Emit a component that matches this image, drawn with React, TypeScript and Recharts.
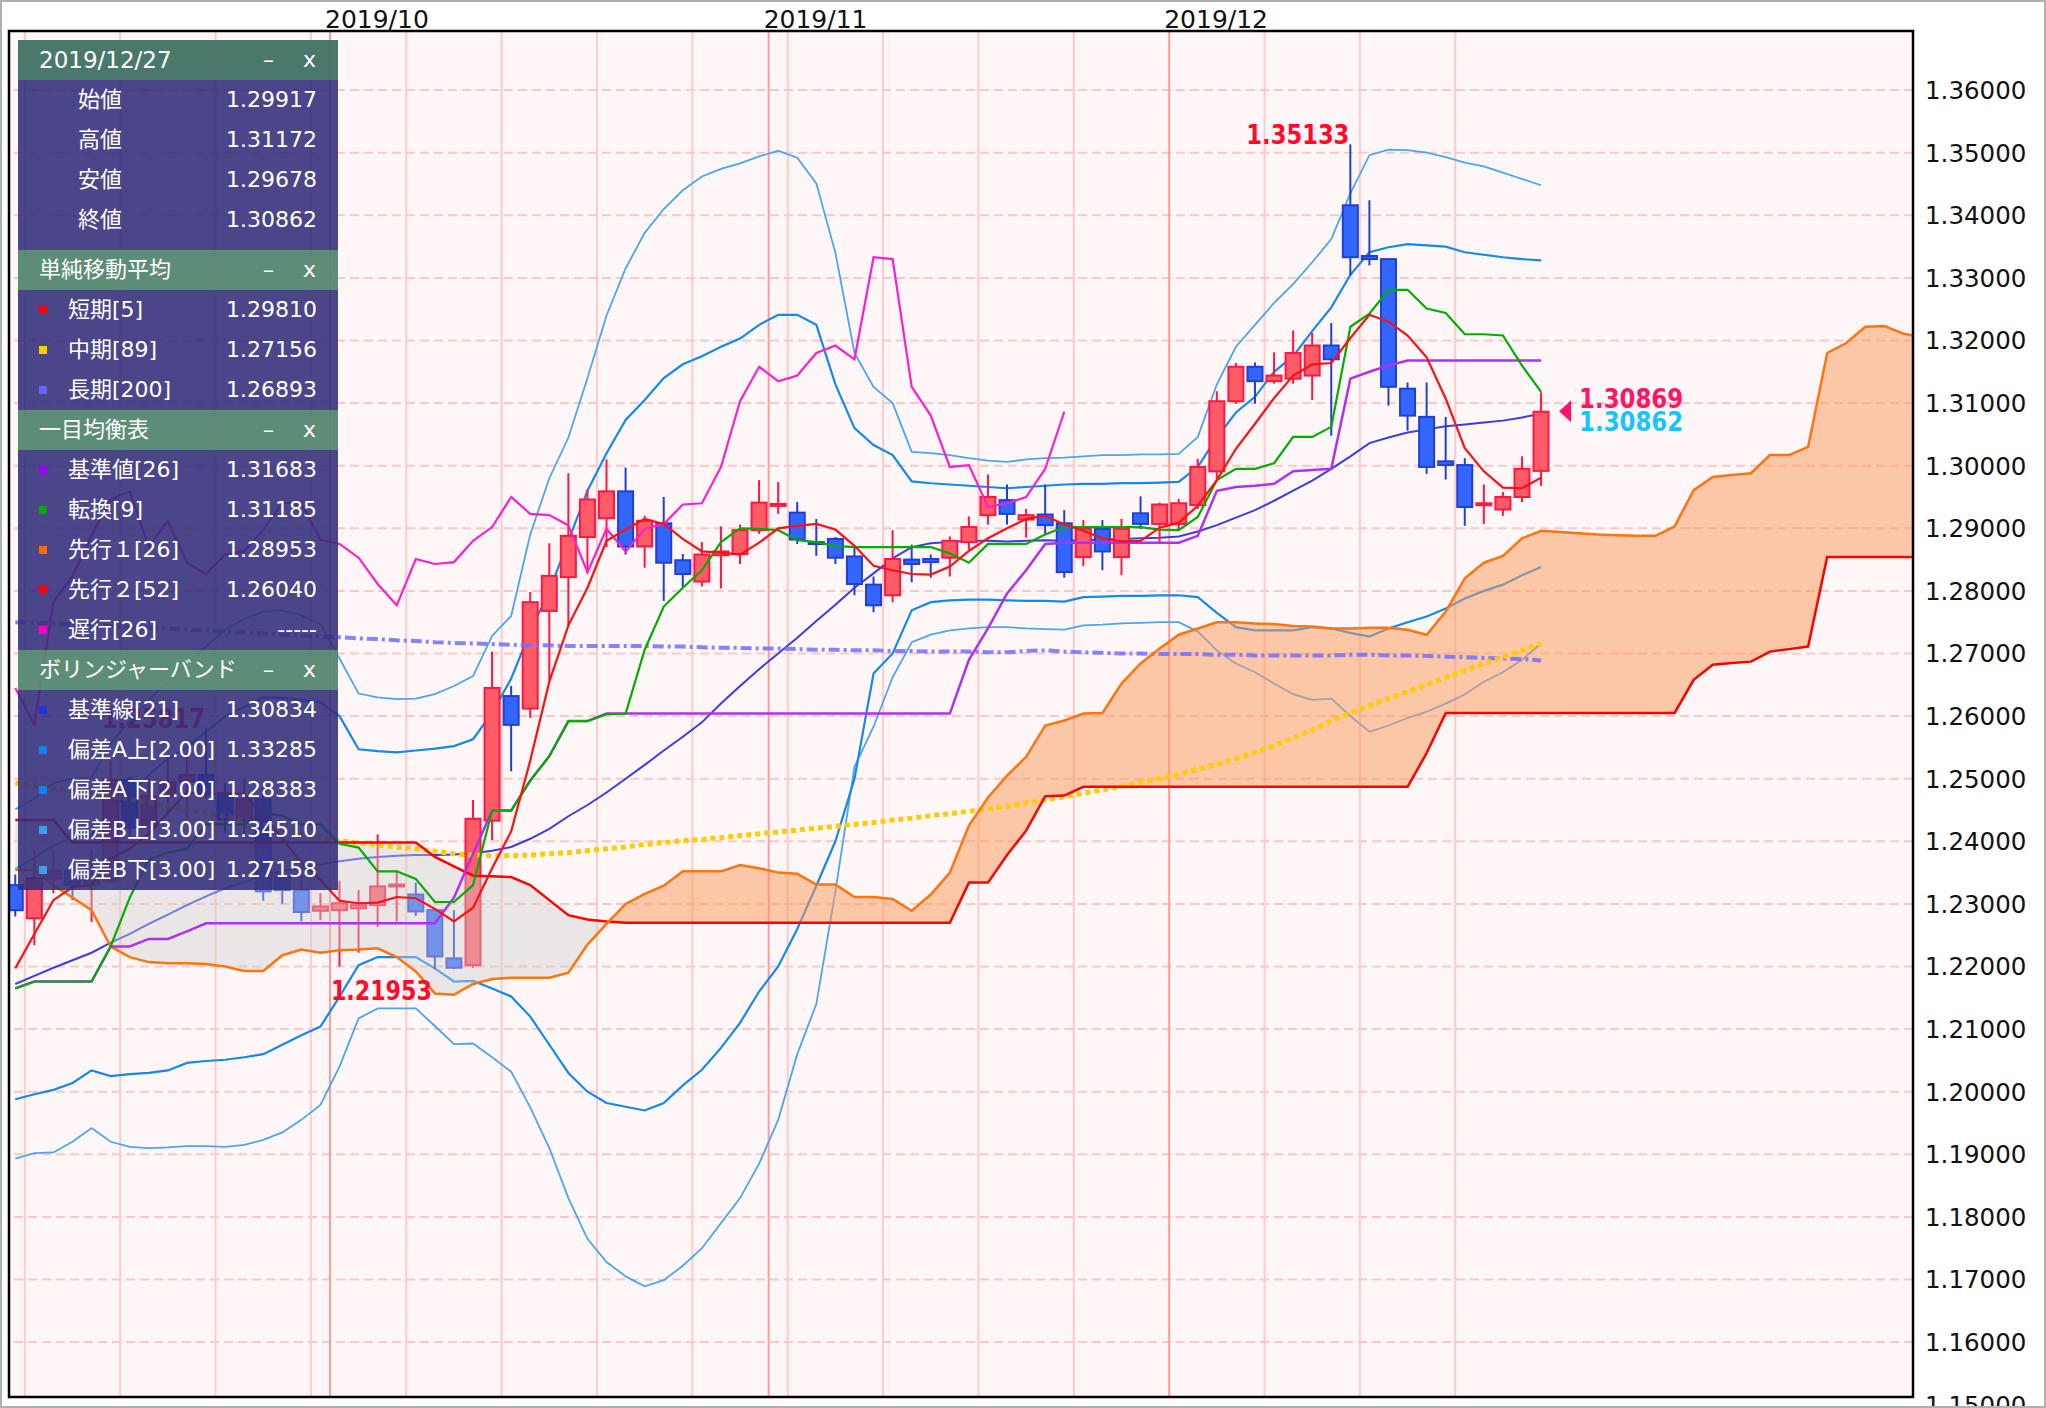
import React from "react";
import {
  ComposedChart,
  Line,
  Area,
  Bar,
  XAxis,
  YAxis,
  ReferenceLine,
  ReferenceArea,
  ReferenceDot,
} from "recharts";

const CHART_W = 2046;
const CHART_H = 1408;
const X_DOMAIN: [number, number] = [-0.33, 99.5];
const Y_DOMAIN: [number, number] = [1.15123, 1.36944];

// ---- candles (slot 0 = 2019/09/06 ... slot 80 = 2019/12/27) ----
const opens = [
  1.2330, 1.2277, 1.2341, 1.2353, 1.2330, 1.2337, 1.2498, 1.2422, 1.2472, 1.2495,
  1.2506, 1.2477, 1.2435, 1.2467, 1.2343, 1.2322, 1.2289, 1.2290, 1.2293, 1.2298,
  1.2328, 1.2315, 1.2290, 1.2213, 1.2202, 1.2433, 1.2632, 1.2612, 1.2768, 1.2822,
  1.2886, 1.2916, 1.2959, 1.2871, 1.2908, 1.2849, 1.2815, 1.2857, 1.2859, 1.2897,
  1.2936, 1.2925, 1.2878, 1.2883, 1.2855, 1.2810, 1.2793, 1.2850, 1.2851, 1.2853,
  1.2878, 1.2921, 1.2945, 1.2914, 1.2922, 1.2908, 1.2854, 1.2899, 1.2854, 1.2924,
  1.2907, 1.2907, 1.2937, 1.2991, 1.3103, 1.3158, 1.3135, 1.3139, 1.3144, 1.3192,
  1.3416, 1.3335, 1.3330, 1.3123, 1.3078, 1.3007, 1.3001, 1.2937, 1.2930, 1.2950,
  1.29917,
];
const highs = [
  1.2347, 1.2385, 1.2383, 1.2369, 1.2385, 1.2528, 1.2503, 1.2501, 1.2530, 1.2541,
  1.25817, 1.2493, 1.2499, 1.2490, 1.2350, 1.2346, 1.2317, 1.2337, 1.2322, 1.2411,
  1.2354, 1.2334, 1.2292, 1.2290, 1.2466, 1.2703, 1.2648, 1.2798, 1.2876, 1.2988,
  1.2962, 1.3010, 1.2997, 1.2920, 1.2950, 1.2859, 1.2878, 1.2903, 1.2906, 1.2977,
  1.2974, 1.2942, 1.2915, 1.2886, 1.2870, 1.2823, 1.2897, 1.2874, 1.2858, 1.2887,
  1.2919, 1.2986, 1.2970, 1.2931, 1.2970, 1.2929, 1.2913, 1.2913, 1.2915, 1.2951,
  1.2941, 1.2947, 1.3011, 1.3119, 1.3164, 1.3165, 1.3181, 1.3216, 1.3212, 1.3228,
  1.35133, 1.3424, 1.3331, 1.3133, 1.3133, 1.3078, 1.3012, 1.2970, 1.2958, 1.3015,
  1.31172,
];
const lows = [
  1.2280, 1.2234, 1.2317, 1.2306, 1.2271, 1.2333, 1.2405, 1.2408, 1.2444, 1.2436,
  1.2468, 1.2414, 1.2412, 1.2305, 1.2300, 1.2272, 1.2274, 1.2200, 1.2222, 1.2263,
  1.2272, 1.2281, 1.21953, 1.2196, 1.2198, 1.2402, 1.2512, 1.2597, 1.2657, 1.2745,
  1.2828, 1.2870, 1.2858, 1.2837, 1.2784, 1.2805, 1.2807, 1.2804, 1.2843, 1.2891,
  1.2923, 1.2875, 1.2856, 1.2843, 1.2793, 1.2766, 1.2782, 1.2814, 1.2821, 1.2823,
  1.2866, 1.2906, 1.2906, 1.2885, 1.2891, 1.2821, 1.2840, 1.2833, 1.2825, 1.2899,
  1.2878, 1.2897, 1.2931, 1.2979, 1.3099, 1.3099, 1.3131, 1.3131, 1.3105, 1.3048,
  1.3304, 1.3320, 1.3096, 1.3056, 1.2987, 1.2978, 1.2904, 1.2907, 1.2920, 1.2942,
  1.29678,
];
const closes = [
  1.2290, 1.2341, 1.2353, 1.2330, 1.2337, 1.2498, 1.2422, 1.2472, 1.2495, 1.2506,
  1.2477, 1.2435, 1.2467, 1.2320, 1.2322, 1.2287, 1.2296, 1.2301, 1.2298, 1.2328,
  1.2331, 1.2288, 1.2216, 1.2198, 1.2436, 1.2645, 1.2586, 1.2782, 1.2824, 1.2888,
  1.2946, 1.2959, 1.2871, 1.2912, 1.2845, 1.2827, 1.2858, 1.2863, 1.2897, 1.2941,
  1.2939, 1.2882, 1.2875, 1.2853, 1.2811, 1.2777, 1.2851, 1.2843, 1.2846, 1.2880,
  1.2902, 1.2950, 1.2923, 1.2921, 1.2905, 1.2830, 1.2899, 1.2863, 1.2899, 1.2907,
  1.2938, 1.2940, 1.2998, 1.3103, 1.3158, 1.3135, 1.3144, 1.3180, 1.3192, 1.3170,
  1.3333, 1.3330, 1.3126, 1.3080, 1.2998, 1.3001, 1.2934, 1.2940, 1.2950, 1.2995,
  1.30862,
];

// ---- moving averages ----
const sma5 = [
  1.2197, 1.2252, 1.2306, 1.2327, 1.2330, 1.2372, 1.2388, 1.2412, 1.2445, 1.2479,
  1.2474, 1.2477, 1.2476, 1.2441, 1.2404, 1.2366, 1.2338, 1.2305, 1.2301, 1.2302,
  1.2311, 1.2309, 1.2292, 1.2272, 1.2294, 1.2357, 1.2416, 1.2529, 1.2655, 1.2745,
  1.2805, 1.2880, 1.2898, 1.2915, 1.2907, 1.2883, 1.2863, 1.2861, 1.2858, 1.2877,
  1.2900, 1.2904, 1.2907, 1.2898, 1.2872, 1.2840, 1.2833, 1.2827, 1.2826, 1.2839,
  1.2864, 1.2884, 1.2900, 1.2915, 1.2920, 1.2906, 1.2896, 1.2884, 1.2879, 1.2880,
  1.2901, 1.2909, 1.2936, 1.2977, 1.3027, 1.3067, 1.3108, 1.3144, 1.3162, 1.3164,
  1.3204, 1.3241, 1.3230, 1.3208, 1.3173, 1.3107, 1.3028, 1.2991, 1.2965, 1.2964,
  1.2981,
];
const sma89 = [
  1.2493, 1.2489, 1.2485, 1.2481, 1.2477, 1.2472, 1.2467, 1.2462, 1.2456, 1.2450,
  1.2445, 1.2440, 1.2434, 1.2427, 1.2420, 1.2412, 1.2406, 1.2401, 1.2397, 1.2394,
  1.2391, 1.2388, 1.2384, 1.2380, 1.2378, 1.2377, 1.2377, 1.2378, 1.2380, 1.2382,
  1.2385, 1.2388, 1.2391, 1.2395, 1.2398, 1.2401, 1.2403, 1.2406, 1.2409, 1.2412,
  1.2415, 1.2418, 1.2421, 1.2424, 1.2427, 1.2430, 1.2434, 1.2437, 1.2441, 1.2444,
  1.2448, 1.2452, 1.2456, 1.2461, 1.2466, 1.2471, 1.2477, 1.2482, 1.2488, 1.2494,
  1.2500, 1.2507, 1.2515, 1.2523, 1.2532, 1.2542, 1.2553, 1.2565, 1.2578, 1.2592,
  1.2605, 1.2617, 1.2628, 1.2639, 1.2650, 1.2662, 1.2673, 1.2684, 1.2694, 1.2705,
  1.2716,
];
const sma200 = [
  1.2750, 1.2749, 1.2748, 1.2746, 1.2745, 1.2744, 1.2742, 1.2741, 1.2740, 1.2738,
  1.2737, 1.2735, 1.2734, 1.2732, 1.2730, 1.2729, 1.2727, 1.2726, 1.2724, 1.2723,
  1.2721, 1.2720, 1.2718, 1.2717, 1.2716, 1.2715, 1.2714, 1.2713, 1.2713, 1.2712,
  1.2712, 1.2712, 1.2712, 1.2712, 1.2711, 1.2711, 1.2710, 1.2709, 1.2709, 1.2708,
  1.2708, 1.2707, 1.2706, 1.2706, 1.2705, 1.2705, 1.2704, 1.2704, 1.2703, 1.2703,
  1.2703, 1.2702, 1.2702, 1.2704, 1.2705, 1.2703, 1.2702, 1.2701, 1.2700, 1.2700,
  1.2699, 1.2699, 1.2699, 1.2698, 1.2698, 1.2697, 1.2697, 1.2697, 1.2697, 1.2697,
  1.2698, 1.2698, 1.2697, 1.2697, 1.2696, 1.2695, 1.2694, 1.2693, 1.2692, 1.2691,
  1.2689,
];

// ---- ichimoku ----
const tenkan = [
  1.2165, 1.2176, 1.2176, 1.2176, 1.2176, 1.2232, 1.2310, 1.2371, 1.2382, 1.2388,
  1.2427, 1.2427, 1.2427, 1.2444, 1.2441, 1.2427, 1.2427, 1.2396, 1.2390, 1.2352,
  1.2352, 1.2340, 1.2303, 1.2303, 1.2330, 1.2449, 1.2449, 1.2497, 1.2536, 1.2592,
  1.2592, 1.2603, 1.2604, 1.2706, 1.2775, 1.2805, 1.2833, 1.2878, 1.2900, 1.2899,
  1.2897, 1.2881, 1.2878, 1.2872, 1.2870, 1.2870, 1.2870, 1.2870, 1.2870, 1.2860,
  1.2845, 1.2875, 1.2875, 1.2875, 1.2890, 1.2902, 1.2902, 1.2902, 1.2902, 1.2902,
  1.2898, 1.2897, 1.2918, 1.2977, 1.2995, 1.2995, 1.3004, 1.3046, 1.3046, 1.3062,
  1.3222, 1.3243, 1.3281, 1.3281, 1.3251, 1.3244, 1.3210, 1.3210, 1.3208, 1.3160,
  1.3118,
];
const kijun = [
  1.2165, 1.2176, 1.2176, 1.2176, 1.2176, 1.2232, 1.2232, 1.2244, 1.2244, 1.2256,
  1.2269, 1.2269, 1.2269, 1.2269, 1.2269, 1.2269, 1.2269, 1.2269, 1.2269, 1.2269,
  1.2269, 1.2269, 1.2269, 1.2310, 1.2380, 1.2449, 1.2449, 1.2497, 1.2536, 1.2592,
  1.2592, 1.2604, 1.2604, 1.2604, 1.2604, 1.2604, 1.2604, 1.2604, 1.2604, 1.2604,
  1.2604, 1.2604, 1.2604, 1.2604, 1.2604, 1.2604, 1.2604, 1.2604, 1.2604, 1.2604,
  1.2690, 1.2740, 1.2796, 1.2833, 1.2875, 1.2877, 1.2877, 1.2877, 1.2877, 1.2877,
  1.2877, 1.2877, 1.2888, 1.2960, 1.2966, 1.2968, 1.2971, 1.2991, 1.2993, 1.2995,
  1.3139, 1.3150, 1.3160, 1.3168, 1.3168, 1.3168, 1.3168, 1.3168, 1.3168, 1.3168,
  1.3168,
];
const chikou = [
  1.2645, 1.2586, 1.2782, 1.2824, 1.2888, 1.2946, 1.2959, 1.2871, 1.2912, 1.2845,
  1.2827, 1.2858, 1.2863, 1.2897, 1.2941, 1.2939, 1.2882, 1.2875, 1.2853, 1.2811,
  1.2777, 1.2851, 1.2843, 1.2846, 1.2880, 1.2902, 1.2950, 1.2923, 1.2921, 1.2905,
  1.2830, 1.2899, 1.2863, 1.2899, 1.2907, 1.2938, 1.2940, 1.2998, 1.3103, 1.3158,
  1.3135, 1.3144, 1.3180, 1.3192, 1.3170, 1.3333, 1.3330, 1.3126, 1.3080, 1.2998,
  1.3001, 1.2934, 1.2940, 1.2950, 1.2995, 1.30862,
];
const span1 = [
  1.2354, 1.2354, 1.2330, 1.2310, 1.2290, 1.2232, 1.2215, 1.2207, 1.2205, 1.2205,
  1.2204, 1.2200, 1.2193, 1.2193, 1.2218, 1.2227, 1.2222, 1.2226, 1.2227, 1.2229,
  1.2215, 1.2192, 1.2157, 1.2155, 1.2172, 1.2180, 1.2182, 1.2182, 1.2182, 1.2190,
  1.2235, 1.2268, 1.2300, 1.2316, 1.2329, 1.2352, 1.2352, 1.2352, 1.2362, 1.2357,
  1.2350, 1.2348, 1.2331, 1.2331, 1.2311, 1.2311, 1.2308, 1.2289, 1.2315, 1.2350,
  1.2425, 1.2470, 1.2505, 1.2535, 1.2585, 1.2593, 1.2604, 1.2605, 1.2652, 1.2684,
  1.2708, 1.2730, 1.2740, 1.2750, 1.2750, 1.2748, 1.2747, 1.2744, 1.2743, 1.2740,
  1.2740, 1.2741, 1.2741, 1.2738, 1.2730, 1.2767, 1.2820, 1.2845, 1.2856, 1.2884,
  1.2896, 1.2894, 1.2892, 1.2890, 1.2889, 1.2888, 1.2888, 1.2903, 1.2961, 1.2982,
  1.2985, 1.2988, 1.3017, 1.3017, 1.3030, 1.3180, 1.3196, 1.3222, 1.3223, 1.3211,
  1.3205,
];
const span2 = [
  1.2434, 1.2434, 1.2434, 1.2398, 1.2398, 1.2398, 1.2398, 1.2398, 1.2398, 1.2398,
  1.2398, 1.2398, 1.2398, 1.2398, 1.2398, 1.2398, 1.2398, 1.2398, 1.2398, 1.2398,
  1.2398, 1.2398, 1.2375, 1.2360, 1.2345, 1.2344, 1.2343, 1.2330, 1.2306, 1.2282,
  1.2275, 1.2272, 1.2270, 1.2270, 1.2270, 1.2270, 1.2270, 1.2270, 1.2270, 1.2270,
  1.2270, 1.2270, 1.2270, 1.2270, 1.2270, 1.2270, 1.2270, 1.2270, 1.2270, 1.2270,
  1.2334, 1.2334, 1.2378, 1.2417, 1.2472, 1.2473, 1.2487, 1.2487, 1.2487, 1.2487,
  1.2487, 1.2487, 1.2487, 1.2487, 1.2487, 1.2487, 1.2487, 1.2487, 1.2487, 1.2487,
  1.2487, 1.2487, 1.2487, 1.2487, 1.2541, 1.2605, 1.2605, 1.2605, 1.2605, 1.2605,
  1.2605, 1.2605, 1.2605, 1.2605, 1.2605, 1.2605, 1.2605, 1.2605, 1.2658, 1.2682,
  1.2685, 1.2687, 1.2703, 1.2707, 1.2711, 1.2854, 1.2854, 1.2854, 1.2854, 1.2854,
  1.2854,
];

// ---- bollinger bands ----
const bbMid = [
  1.2172, 1.2185, 1.2198, 1.2210, 1.2222, 1.2238, 1.2252, 1.2268, 1.2283, 1.2298,
  1.2312, 1.2325, 1.2335, 1.2345, 1.2352, 1.2358, 1.2363, 1.2368, 1.2372, 1.2375,
  1.2377, 1.2378, 1.2378, 1.2379, 1.2381, 1.2385, 1.2391, 1.2404, 1.2420, 1.2440,
  1.2458, 1.2478, 1.2500, 1.2522, 1.2545, 1.2567, 1.2590, 1.2620, 1.2648, 1.2675,
  1.2700, 1.2725, 1.2752, 1.2778, 1.2805, 1.2828, 1.2852, 1.2870, 1.2876, 1.2878,
  1.2880, 1.2880, 1.2879, 1.2880, 1.2881, 1.2880, 1.2881, 1.2882, 1.2883, 1.2884,
  1.2885, 1.2887, 1.2895, 1.2905, 1.2917, 1.2929, 1.2944, 1.2960, 1.2976, 1.2995,
  1.3015, 1.3036, 1.3045, 1.3053, 1.3058, 1.3063, 1.3066, 1.3069, 1.3072, 1.3077,
  1.3083,
];
const bbAU = [
  1.2356, 1.2374, 1.2393, 1.2406, 1.2410, 1.2451, 1.2476, 1.2506, 1.2532, 1.2550,
  1.2575, 1.2599, 1.2615, 1.2630, 1.2629, 1.2626, 1.2622, 1.2600, 1.2547, 1.2544,
  1.2542, 1.2545, 1.2548, 1.2552, 1.2563, 1.2605, 1.2660, 1.2735, 1.2800, 1.2880,
  1.2960, 1.3020, 1.3073, 1.3105, 1.3140, 1.3162, 1.3175, 1.3190, 1.3203, 1.3225,
  1.3241, 1.3241, 1.3225, 1.3130, 1.3060, 1.3033, 1.3017, 1.2975, 1.2972, 1.2970,
  1.2968, 1.2966, 1.2964, 1.2966, 1.2968, 1.2970, 1.2971, 1.2971, 1.2972, 1.2972,
  1.2973, 1.2974, 1.2998, 1.3045, 1.3085, 1.3110, 1.3150, 1.3175, 1.3215, 1.3253,
  1.3305, 1.3341, 1.3349, 1.3354, 1.3352, 1.3350, 1.3341, 1.3337, 1.3333, 1.3330,
  1.3328,
];
const bbAL = [
  1.1988, 1.1996, 1.2003, 1.2014, 1.2034, 1.2025, 1.2028, 1.2030, 1.2034, 1.2046,
  1.2049, 1.2051, 1.2055, 1.2060, 1.2075, 1.2090, 1.2104, 1.2152, 1.2202, 1.2215,
  1.2215, 1.2215, 1.2197, 1.2176, 1.2177, 1.2165, 1.2152, 1.2120, 1.2075, 1.2030,
  1.2000, 1.1982, 1.1976, 1.1970, 1.1982, 1.2010, 1.2035, 1.2070, 1.2110, 1.2160,
  1.2200, 1.2260, 1.2329, 1.2400, 1.2500, 1.2668, 1.2700, 1.2769, 1.2782, 1.2785,
  1.2786, 1.2786, 1.2785, 1.2784, 1.2784, 1.2783, 1.2790, 1.2791, 1.2792, 1.2792,
  1.2793, 1.2793, 1.2790, 1.2765, 1.2742, 1.2737, 1.2737, 1.2737, 1.2742, 1.2740,
  1.2733, 1.2727, 1.2740, 1.2750, 1.2759, 1.2772, 1.2788, 1.2800, 1.2810, 1.2825,
  1.2838,
];
const bbBU = [
  1.2451, 1.2468, 1.2493, 1.2500, 1.2502, 1.2556, 1.2592, 1.2626, 1.2655, 1.2683,
  1.2711, 1.2738, 1.2755, 1.2767, 1.2769, 1.2761, 1.2747, 1.2692, 1.2636, 1.2630,
  1.2627, 1.2628, 1.2635, 1.2648, 1.2664, 1.2728, 1.2760, 1.2890, 1.2980, 1.3045,
  1.3140, 1.3240, 1.3315, 1.3372, 1.3410, 1.3440, 1.3462, 1.3474, 1.3483, 1.3494,
  1.3503, 1.3492, 1.3451, 1.3340, 1.3180, 1.3126, 1.3100, 1.3022, 1.3020, 1.3017,
  1.3012, 1.3008, 1.3006, 1.3010, 1.3012, 1.3013, 1.3015, 1.3017, 1.3017, 1.3018,
  1.3018, 1.3019, 1.3046, 1.3130, 1.3190, 1.3225, 1.3260, 1.3290, 1.3325, 1.3362,
  1.3435, 1.3496, 1.3505, 1.3504, 1.3500, 1.3493, 1.3484, 1.3478, 1.3468, 1.3458,
  1.3448,
];
const bbBL = [
  1.1893, 1.1902, 1.1903, 1.1920, 1.1942, 1.1920, 1.1912, 1.1910, 1.1911, 1.1913,
  1.1913, 1.1912, 1.1915, 1.1923, 1.1935, 1.1955, 1.1979, 1.2040, 1.2117, 1.2133,
  1.2133, 1.2133, 1.2105, 1.2076, 1.2077, 1.2055, 1.2032, 1.1975, 1.1910, 1.1830,
  1.1765, 1.1728, 1.1705, 1.1689, 1.1699, 1.1722, 1.1750, 1.1790, 1.1830, 1.1885,
  1.1955, 1.2060, 1.2140, 1.2320, 1.2519, 1.2583, 1.2662, 1.2718, 1.2730, 1.2737,
  1.2740, 1.2742, 1.2742, 1.2740, 1.2739, 1.2738, 1.2745, 1.2746, 1.2748, 1.2749,
  1.2750, 1.2750, 1.2735, 1.2705, 1.2684, 1.2670, 1.2652, 1.2635, 1.2626, 1.2628,
  1.2600, 1.2575, 1.2585, 1.2597, 1.2607, 1.2620, 1.2635, 1.2655, 1.2670, 1.2690,
  1.2716,
];

// ---- axes / grid ----
const yTicks = [
  1.15, 1.16, 1.17, 1.18, 1.19, 1.2, 1.21, 1.22, 1.23, 1.24, 1.25,
  1.26, 1.27, 1.28, 1.29, 1.3, 1.31, 1.32, 1.33, 1.34, 1.35, 1.36,
];
const weekBoundaries = [0.5, 5.5, 10.5, 15.5, 20.5, 25.5, 30.5, 35.5, 40.5, 45.5, 50.5, 55.5, 65.5, 70.5, 75.5];
const monthBoundaries = [16.5, 39.5, 60.5];
const monthLabels = ["2019/10", "2019/11", "2019/12"];
const lastAsk = 1.30869;

// ---- info panel ----
const panelDate = "2019/12/27";
const ohlcNames = ["始値", "高値", "安値", "終値"];
const ohlcValues = ["1.29917", "1.31172", "1.29678", "1.30862"];
const maTitle = "単純移動平均";
const maNames = ["短期[5]", "中期[89]", "長期[200]"];
const maColors = ["#ff0000", "#ffcc00", "#6666ff"];
const maValues = ["1.29810", "1.27156", "1.26893"];
const ichiTitle = "一目均衡表";
const ichiNames = ["基準値[26]", "転換[9]", "先行１[26]", "先行２[52]", "遅行[26]"];
const ichiColors = ["#9900ff", "#00aa00", "#ff6a00", "#ff0000", "#ff00cc"];
const ichiValues = ["1.31683", "1.31185", "1.28953", "1.26040", "-----"];
const bbTitle = "ボリンジャーバンド";
const bbNames = ["基準線[21]", "偏差A上[2.00]", "偏差A下[2.00]", "偏差B上[3.00]", "偏差B下[3.00]"];
const bbColors = ["#2233dd", "#0a84f0", "#0a84f0", "#3d9ef0", "#3d9ef0"];
const bbValues = ["1.30834", "1.33285", "1.28383", "1.34510", "1.27158"];

const data = Array.from({ length: span1.length }, (_, i) => {
  const hasC = i < closes.length;
  const s1 = span1[i];
  const s2 = span2[i];
  const hasS = s1 !== undefined && s2 !== undefined;
  return {
    i,
    o: hasC ? opens[i] : undefined,
    h: hasC ? highs[i] : undefined,
    l: hasC ? lows[i] : undefined,
    c: hasC ? closes[i] : undefined,
    rng: hasC ? [lows[i], highs[i]] : undefined,
    sma5: sma5[i],
    sma89: sma89[i],
    sma200: sma200[i],
    tenkan: tenkan[i],
    kijun: kijun[i],
    chikou: chikou[i],
    s1,
    s2,
    cloudUp: hasS ? [s2, Math.max(s1, s2)] : undefined,
    cloudDn: hasS ? [s1, Math.max(s1, s2)] : undefined,
    bbMid: bbMid[i],
    bbAU: bbAU[i],
    bbAL: bbAL[i],
    bbBU: bbBU[i],
    bbBL: bbBL[i],
  };
});

const maxHigh = Math.max(...highs);
const maxHighIdx = highs.indexOf(maxHigh);
const minLow = Math.min(...lows);
const minLowIdx = lows.indexOf(minLow);
const earlyHighs = highs.slice(0, 20);
const earlyHigh = Math.max(...earlyHighs);
const earlyHighIdx = earlyHighs.indexOf(earlyHigh);

const NUM_FONT = "'DejaVu Sans', sans-serif";
const BOLD_FONT = "'DejaVu Sans Condensed', 'DejaVu Sans', sans-serif";

const Candle = (props: any) => {
  const { x, y, width, height, payload } = props;
  if (!payload || payload.o == null || x == null || y == null) return null;
  const { o, h, l, c } = payload;
  const top = Math.min(y, y + height);
  const full = Math.abs(height);
  const k = h - l > 0 ? full / (h - l) : 0;
  const yO = top + (h - o) * k;
  const yC = top + (h - c) * k;
  const up = c >= o;
  const stroke = up ? "#ff1744" : "#1f3fd6";
  const fill = up ? "#ff5c68" : "#3366ff";
  const cx = x + width / 2;
  const bTop = Math.min(yO, yC);
  const bh = Math.max(Math.abs(yO - yC), 2);
  return (
    <g>
      <line x1={cx} x2={cx} y1={top} y2={top + full} stroke={stroke} strokeWidth={2} />
      <rect x={x} y={bTop} width={width} height={bh} fill={fill} stroke={stroke} strokeWidth={2} />
    </g>
  );
};

const XTick = (props: any) => {
  const { x, payload } = props;
  const idx = monthBoundaries.indexOf(payload.value);
  if (idx < 0) return null;
  return (
    <text x={x - 5} y={28} fontSize={25} fontFamily={NUM_FONT} fill="#111" textAnchor="start">
      {monthLabels[idx]}
    </text>
  );
};

const YTick = (props: any) => {
  const { y, payload } = props;
  return (
    <text x={1925} y={y + 9} fontSize={24.5} fontFamily={NUM_FONT} fill="#111" textAnchor="start">
      {Number(payload.value).toFixed(5)}
    </text>
  );
};

const PeakLabel = (p: any) => (
  <text
    x={p.cx - 1}
    y={p.cy}
    textAnchor="end"
    fontSize={27}
    fontWeight={700}
    fill="#ff0a2a"
    fontFamily={BOLD_FONT}
    textLength={103}
    lengthAdjust="spacingAndGlyphs"
  >
    {p.valueText}
  </text>
);

const LowLabel = (p: any) => (
  <text
    x={p.cx - 3}
    y={p.cy + 31}
    textAnchor="end"
    fontSize={27}
    fontWeight={700}
    fill="#ff0a2a"
    fontFamily={BOLD_FONT}
    textLength={101}
    lengthAdjust="spacingAndGlyphs"
  >
    {minLow.toFixed(5)}
  </text>
);

const LastLabel = (p: any) => {
  const { cx, cy } = p;
  return (
    <g>
      <polygon
        points={`${cx + 18},${cy} ${cx + 30},${cy - 11} ${cx + 30},${cy + 11}`}
        fill="#ff1466"
      />
      <text
        x={cx + 38}
        y={cy - 3}
        fontSize={26}
        fontWeight={700}
        fill="#ff1466"
        fontFamily={BOLD_FONT}
        textLength={104}
        lengthAdjust="spacingAndGlyphs"
      >
        {lastAsk.toFixed(5)}
      </text>
      <text
        x={cx + 38}
        y={cy + 20}
        fontSize={26}
        fontWeight={700}
        fill="#18c4ff"
        fontFamily={BOLD_FONT}
        textLength={104}
        lengthAdjust="spacingAndGlyphs"
      >
        {closes[closes.length - 1].toFixed(5)}
      </text>
    </g>
  );
};

const PANEL_FONT = "'DejaVu Sans', 'Noto Sans CJK JP', sans-serif";

function PanelHeader({ title, top, dark }: { title: string; top: number; dark?: boolean }) {
  return (
    <div
      style={{
        position: "absolute",
        left: 0,
        top,
        width: 320,
        height: 40,
        background: dark ? "rgba(68,116,102,0.97)" : "rgba(86,136,112,0.96)",
        color: "#fff",
        fontFamily: PANEL_FONT,
        fontSize: 22,
        lineHeight: "40px",
      }}
    >
      <span style={{ position: "absolute", left: 21, top: 0, fontSize: dark ? 23 : 22 }}>{title}</span>
      <span style={{ position: "absolute", left: 245, top: 0 }}>–</span>
      <span style={{ position: "absolute", left: 285, top: 0 }}>x</span>
    </div>
  );
}

function PanelRow({ top, name, value, color, nameLeft }: { top: number; name: string; value: string; color?: string; nameLeft: number }) {
  return (
    <div
      style={{
        position: "absolute",
        left: 0,
        top,
        width: 320,
        height: 40,
        color: "#fff",
        fontFamily: PANEL_FONT,
        fontSize: 22,
        lineHeight: "40px",
      }}
    >
      {color ? (
        <span style={{ position: "absolute", left: 21, top: 16, width: 8, height: 8, background: color }} />
      ) : null}
      <span style={{ position: "absolute", left: nameLeft, top: 0, whiteSpace: "nowrap" }}>{name}</span>
      <span style={{ position: "absolute", right: 21, top: 0 }}>{value}</span>
    </div>
  );
}

function InfoPanel() {
  const body = "rgba(50,45,122,0.88)";
  return (
    <div style={{ position: "absolute", left: 18, top: 40, width: 320, height: 850 }}>
      <PanelHeader title={panelDate} top={0} dark />
      <div style={{ position: "absolute", left: 0, top: 40, width: 320, height: 170, background: body }} />
      {ohlcNames.map((n, k) => (
        <PanelRow key={n} top={40 + k * 40} name={n} value={ohlcValues[k]} nameLeft={60} />
      ))}
      <PanelHeader title={maTitle} top={210} />
      <div style={{ position: "absolute", left: 0, top: 250, width: 320, height: 120, background: body }} />
      {maNames.map((n, k) => (
        <PanelRow key={n} top={250 + k * 40} name={n} value={maValues[k]} color={maColors[k]} nameLeft={50} />
      ))}
      <PanelHeader title={ichiTitle} top={370} />
      <div style={{ position: "absolute", left: 0, top: 410, width: 320, height: 200, background: body }} />
      {ichiNames.map((n, k) => (
        <PanelRow key={n} top={410 + k * 40} name={n} value={ichiValues[k]} color={ichiColors[k]} nameLeft={50} />
      ))}
      <PanelHeader title={bbTitle} top={610} />
      <div style={{ position: "absolute", left: 0, top: 650, width: 320, height: 200, background: body }} />
      {bbNames.map((n, k) => (
        <PanelRow key={n} top={650 + k * 40} name={n} value={bbValues[k]} color={bbColors[k]} nameLeft={50} />
      ))}
    </div>
  );
}

const lineCommon = {
  type: "linear" as const,
  dot: false,
  activeDot: false,
  isAnimationActive: false,
  connectNulls: false,
  legendType: "none" as const,
};

export default function App() {
  return (
    <div
      style={{
        position: "absolute",
        left: 0,
        top: 0,
        width: CHART_W,
        height: CHART_H,
        background: "#ffffff",
        overflow: "hidden",
        fontFamily: NUM_FONT,
      }}
    >
      <ComposedChart
        width={CHART_W}
        height={CHART_H}
        data={data}
        margin={{ top: 0, right: 0, bottom: 11, left: 9 }}
        style={{ fontFamily: NUM_FONT }}
      >
        <XAxis
          dataKey="i"
          type="number"
          orientation="top"
          height={31}
          domain={X_DOMAIN}
          allowDataOverflow
          ticks={monthBoundaries}
          interval={0}
          tick={<XTick />}
          axisLine={false}
          tickLine={false}
        />
        <YAxis
          type="number"
          orientation="right"
          width={133}
          domain={Y_DOMAIN}
          allowDataOverflow
          ticks={yTicks}
          interval={0}
          tick={<YTick />}
          axisLine={false}
          tickLine={false}
        />
        <ReferenceArea
          x1={X_DOMAIN[0]}
          x2={X_DOMAIN[1]}
          y1={Y_DOMAIN[0]}
          y2={Y_DOMAIN[1]}
          fill="#fff7f7"
          fillOpacity={1}
          stroke="none"
          zIndex={-200}
        />
        {yTicks.slice(1).map((t) => (
          <ReferenceLine key={"gy" + t} y={t} stroke="#ffc6c6" strokeWidth={2} strokeDasharray="9 5" zIndex={-150} />
        ))}
        {weekBoundaries.map((b) => (
          <ReferenceLine key={"gw" + b} x={b} stroke="#ffcaca" strokeWidth={2} zIndex={-150} />
        ))}
        {monthBoundaries.map((b) => (
          <ReferenceLine key={"gm" + b} x={b} stroke="#ff9c9c" strokeWidth={2} zIndex={-150} />
        ))}

        <Line {...lineCommon} dataKey="bbBU" stroke="#4aa6f2" strokeWidth={1.8} zIndex={250} />
        <Line {...lineCommon} dataKey="bbBL" stroke="#4aa6f2" strokeWidth={1.8} zIndex={250} />
        <Line {...lineCommon} dataKey="bbAU" stroke="#1389f0" strokeWidth={2.2} zIndex={250} />
        <Line {...lineCommon} dataKey="bbAL" stroke="#1389f0" strokeWidth={2.2} zIndex={250} />
        <Line {...lineCommon} dataKey="bbMid" stroke="#3a3aee" strokeWidth={2} zIndex={250} />

        <Bar dataKey="rng" barSize={15} isAnimationActive={false} shape={<Candle />} legendType="none" zIndex={300} />

        <Area
          dataKey="cloudDn"
          type="linear"
          stroke="none"
          fill="rgb(206,208,204)"
          fillOpacity={0.42}
          isAnimationActive={false}
          legendType="none"
          activeDot={false}
          zIndex={350}
        />
        <Area
          dataKey="cloudUp"
          type="linear"
          stroke="none"
          fill="rgb(247,155,92)"
          fillOpacity={0.52}
          isAnimationActive={false}
          legendType="none"
          activeDot={false}
          zIndex={350}
        />

        <Line {...lineCommon} dataKey="sma200" stroke="#7070ff" strokeOpacity={0.85} strokeWidth={4} strokeDasharray="11 4 3 4" zIndex={400} />
        <Line {...lineCommon} dataKey="sma89" stroke="#ffcc00" strokeWidth={5} strokeDasharray="5 4" zIndex={400} />
        <Line {...lineCommon} dataKey="s2" stroke="#ff0000" strokeWidth={2.5} zIndex={410} />
        <Line {...lineCommon} dataKey="s1" stroke="#ff7410" strokeWidth={2.5} zIndex={410} />
        <Line {...lineCommon} dataKey="chikou" stroke="#ff1ecc" strokeWidth={2.2} zIndex={420} />
        <Line {...lineCommon} dataKey="kijun" stroke="#b030f0" strokeWidth={2.5} zIndex={420} />
        <Line {...lineCommon} dataKey="tenkan" stroke="#00ad00" strokeWidth={2.2} zIndex={430} />
        <Line {...lineCommon} dataKey="sma5" stroke="#ff1010" strokeWidth={2.2} zIndex={440} />

        <ReferenceDot
          x={earlyHighIdx}
          y={earlyHigh}
          r={0}
          shape={<PeakLabel valueText={earlyHigh.toFixed(5)} />}
          zIndex={2000}
        />
        <ReferenceDot
          x={maxHighIdx}
          y={maxHigh}
          r={0}
          shape={<PeakLabel valueText={maxHigh.toFixed(5)} />}
          zIndex={2000}
        />
        <ReferenceDot x={minLowIdx} y={minLow} r={0} shape={<LowLabel />} zIndex={2000} />
        <ReferenceDot x={closes.length - 1} y={lastAsk} r={0} shape={<LastLabel />} zIndex={2000} />

        <ReferenceArea
          x1={X_DOMAIN[0]}
          x2={X_DOMAIN[1]}
          y1={Y_DOMAIN[0]}
          y2={Y_DOMAIN[1]}
          fill="none"
          fillOpacity={0}
          stroke="#000"
          strokeWidth={2.5}
          zIndex={2100}
        />
      </ComposedChart>
      <InfoPanel />
      <div
        style={{
          position: "absolute",
          left: 0,
          top: 0,
          width: CHART_W,
          height: CHART_H,
          border: "2px solid #b0b0b0",
          boxSizing: "border-box",
          pointerEvents: "none",
        }}
      />
    </div>
  );
}
